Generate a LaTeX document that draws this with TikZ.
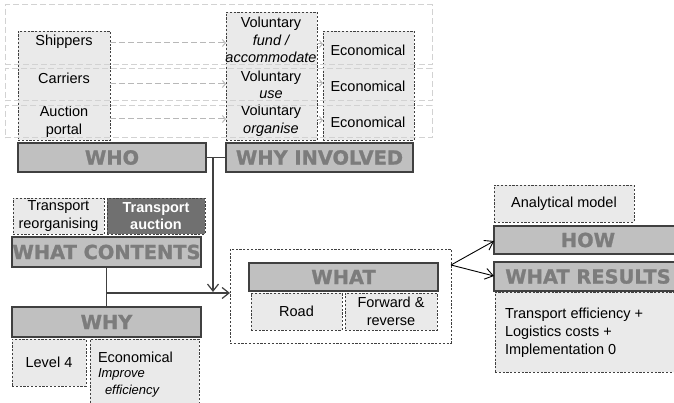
\documentclass[tikz,border=0pt]{standalone}
\usepackage{fontspec}
\setmainfont{Liberation Sans}
\newfontfamily\headfont{DejaVu Sans}[BoldFeatures={FakeBold=1.2}]
\usetikzlibrary{arrows.meta}
\definecolor{lightbox}{HTML}{EAEAEA}
\definecolor{headfill}{HTML}{C0C0C0}
\definecolor{headtext}{HTML}{7C7C7C}
\definecolor{darkbox}{HTML}{707070}
\definecolor{rowline}{HTML}{D2D2D2}
\definecolor{garrowc}{HTML}{B8B8B8}
\definecolor{edge}{HTML}{404040}
\tikzset{
 every node/.style={inner sep=0pt, outer sep=0pt},
 lbox/.style={draw=edge, dash pattern=on 2.2pt off 1.6pt, fill=lightbox, line width=0.9pt, anchor=north west},
 dbox/.style={draw=edge, dash pattern=on 2.2pt off 1.6pt, fill=darkbox, line width=0.9pt, anchor=north west, text=white, font=\bfseries\fontsize{14.5}{17.5}\selectfont, align=center},
 wbox/.style={draw=edge, dash pattern=on 2.2pt off 1.6pt, line width=0.9pt, anchor=north west},
 hbox/.style={draw=edge, fill=headfill, line width=1.2pt, anchor=north west, font=\headfont\bfseries\fontsize{19.4}{20}\selectfont, text=headtext},
 rowbox/.style={draw=rowline, dash pattern=on 6pt off 3pt, line width=1pt, anchor=north west},
 txt/.style={font=\fontsize{14.5}{17.5}\selectfont, align=center},
 itx/.style={font=\itshape\fontsize{13}{15.5}\selectfont},
 garrow/.style={draw=garrowc, dash pattern=on 6pt off 3pt, line width=1pt, -{Straight Barb[length=3pt,width=7pt]}},
 conn/.style={draw=edge, line width=1.2pt},
 carrow/.style={conn, -{Straight Barb[length=7pt,width=11pt]}},
 barrow/.style={draw=black, line width=0.9pt, -{Straight Barb[length=8pt,width=11pt]}},
}
\begin{document}
\begin{tikzpicture}[x=1pt,y=-1pt]
\useasboundingbox (0,0) rectangle (674,403);
% top frames
\node[lbox, minimum width=92, minimum height=109] (whoframe) at (18,31) {};
\node[lbox, minimum width=91, minimum height=128] (volframe) at (226,12) {};
\node[lbox, minimum width=91, minimum height=109] (ecoframe) at (323,31) {};
\node[txt] (tship) at (64,42) {Shippers};
\node[txt] (tcarr) at (64,78) {Carriers};
\node[txt] (tport) at (64,122) {Auction\\portal};
\node[txt] (tvol1) at (271,40) {Voluntary\\{\itshape fund /}\\{\itshape accommodate}};
\node[txt] (tvol2) at (271,85) {Voluntary\\{\itshape use}};
\node[txt] (tvol3) at (271,121) {Voluntary\\{\itshape organise}};
\node[txt] (teco1) at (368,50) {Economical};
\node[txt] (teco2) at (368,86) {Economical};
\node[txt] (teco3) at (368,122) {Economical};
\draw[garrow] (whoframe.east |- 0,43) -- (volframe.west |- 0,43);
\draw[garrow] (whoframe.east |- 0,84) -- (volframe.west |- 0,84);
\draw[garrow] (whoframe.east |- 0,119) -- (volframe.west |- 0,119);
\draw[garrow] (volframe.east |- 0,44) -- (ecoframe.west |- 0,44);
\draw[garrow] (volframe.east |- 0,83) -- (ecoframe.west |- 0,83);
\draw[garrow] (volframe.east |- 0,120) -- (ecoframe.west |- 0,120);
% outer dashed rows
\node[rowbox, minimum width=427, minimum height=60] (row1) at (5,5) {};
\node[rowbox, minimum width=427, minimum height=32] (row2) at (5,69) {};
\node[rowbox, minimum width=427, minimum height=32] (row3) at (5,106) {};
% headings
\node[hbox, minimum width=188, minimum height=29] (who) at (18,143) {WHO};
\node[hbox, minimum width=187, minimum height=29] (whyinv) at (226,143) {WHY INVOLVED};
% what contents
\node[lbox, txt, minimum width=91, minimum height=36] (treorg) at (13,198) {Transport\\reorganising};
\node[dbox, minimum width=98, minimum height=36] (tauct) at (107,198) {Transport\\auction};
\node[hbox, minimum width=189, minimum height=30] (whatcont) at (12,237) {WHAT CONTENTS};
% why
\node[hbox, minimum width=189, minimum height=30] (why) at (12,307) {WHY};
\node[lbox, txt, minimum width=74, minimum height=47] (level) at (12,339) {Level 4};
\node[lbox, minimum width=109, minimum height=70] (whyeco) at (90,339) {};
\node[txt, anchor=west] (weco) at (98,357) {Economical};
\node[itx, anchor=west] (wimp) at (98,374) {Improve};
\node[itx, anchor=west] (weff) at (105,391) {efficiency};
% what
\node[wbox, minimum width=221, minimum height=94] (whatframe) at (230,249) {};
\node[hbox, minimum width=189, minimum height=28] (what) at (249,263) {WHAT};
\node[lbox, txt, minimum width=91, minimum height=37] (road) at (251,293) {Road};
\node[lbox, txt, minimum width=92, minimum height=37] (fwd) at (345,293) {Forward \&\\reverse};
% right side
\node[lbox, txt, minimum width=140, minimum height=37] (anal) at (494,185) {Analytical model};
\node[hbox, minimum width=188, minimum height=28] (how) at (494,226) {HOW};
\node[hbox, minimum width=188, minimum height=29] (whatres) at (494,262) {WHAT RESULTS};
\node[lbox, minimum width=187, minimum height=80] (results) at (495,292) {};
\node[txt, align=left, anchor=west, font=\fontsize{14.5}{18}\selectfont] (restxt) at (505,333) {Transport efficiency +\\Logistics costs +\\Implementation 0};
% connectors
\draw[conn] (who.east) -- (whyinv.west);
\coordinate (j1) at (213,157.5);
\coordinate (j2) at (213,292);
\draw[carrow] (j1) -- (j2);
\draw[conn] (whatcont.south) -- (why.north);
\coordinate (j3) at (whatcont.south |- 0,293);
\draw[carrow] (j3) -- (whatframe.west |- j3);
\coordinate (src) at (whatframe.east |- 0,265);
\draw[barrow] (src) -- (how.west |- 0,241);
\draw[barrow] (src) -- (whatres.west |- 0,276);
\end{tikzpicture}
\end{document}
